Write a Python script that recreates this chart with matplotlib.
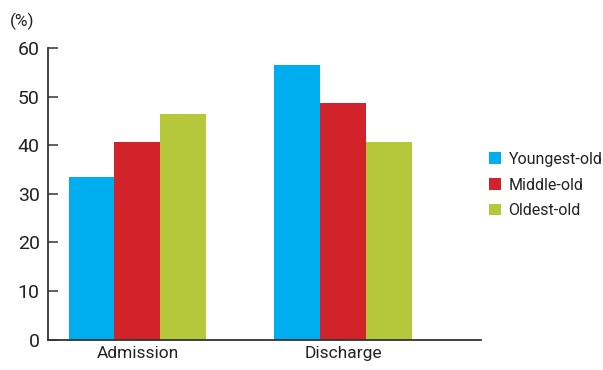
import matplotlib.pyplot as plt
import numpy as np

plt.rcParams['font.family'] = ['Roboto', 'DejaVu Sans']

stages = ['Admission', 'Discharge']
groups = ['Youngest-old', 'Middle-old', 'Oldest-old']
youngest = [33.5, 56.6]
middle = [40.7, 48.7]
oldest = [46.5, 40.7]
colors = ['#00adee', '#d2232a', '#b5c73b']

fig = plt.figure(figsize=(6.03, 3.70), dpi=100)
ax = fig.add_axes([0.0796, 0.0824, 0.718, 0.7871])

x = np.arange(len(stages))
w = 0.2233
for i, (vals, name) in enumerate(zip([youngest, middle, oldest], groups)):
    ax.bar(x + (i - 1) * w, vals, w, color=colors[i], label=name)

ax.set_xlim(-0.4345, 1.6675)
ax.set_ylim(0, 60)
ax.set_yticks(range(0, 61, 10))
ax.set_xticks(x)
ax.set_xticklabels(stages)

for s in ['top', 'right']:
    ax.spines[s].set_visible(False)
for s in ['left', 'bottom']:
    ax.spines[s].set_color('#333333')
    ax.spines[s].set_linewidth(1.3)

ax.tick_params(axis='y', direction='in', length=7, width=1.1, color='#333333',
               labelsize=14, labelcolor='#222222', pad=6)
ax.tick_params(axis='x', length=0, labelsize=12.5, labelcolor='#222222', pad=5)

fig.text(0.017, 0.928, '(%)', fontsize=12.5, color='#222222')

# legend sits to the right of the plot, square swatches
ax.legend(loc='center left', bbox_to_anchor=(489 / 603, 185 / 370),
          bbox_transform=fig.transFigure, frameon=False,
          fontsize=11.5, handlelength=0.72, handleheight=0.72,
          handletextpad=0.5, labelspacing=0.68, borderaxespad=0,
          borderpad=0, labelcolor='#222222')

fig.savefig('out.png', dpi=100)
